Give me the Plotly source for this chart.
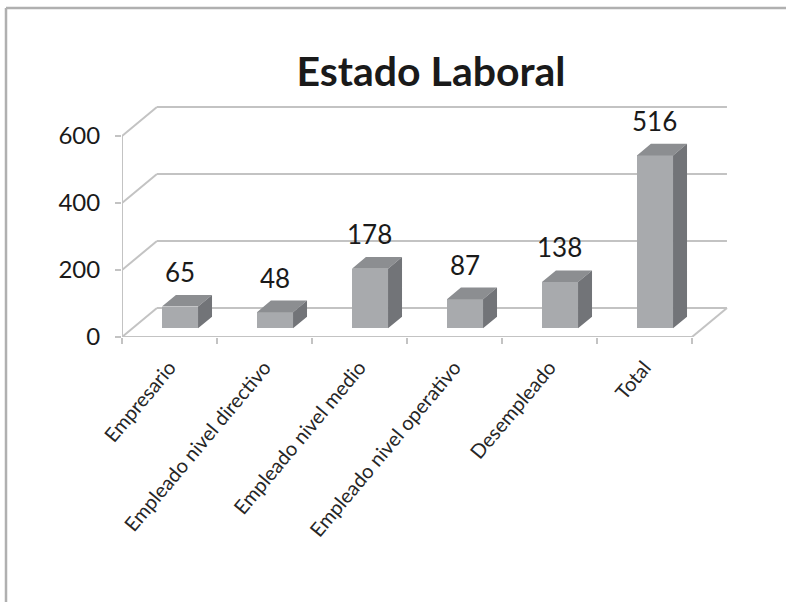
import plotly.graph_objects as go

categories = ["Empresario", "Empleado nivel directivo", "Empleado nivel medio",
              "Empleado nivel operativo", "Desempleado", "Total"]
values = [65, 48, 178, 87, 138, 516]
y_ticks = [0, 200, 400, 600]
title_text = "Estado Laboral"

# pseudo-3D styling
DX = 0.368          # depth offset along x (category units)
DY = 86.6           # depth offset along y (value units)
F1, F2 = 0.30, 0.70  # bar front/back depth fractions
BW = 0.38           # bar width
C_FRONT, C_TOP, C_SIDE = "#a8aaad", "#8c8e91", "#727478"
GRID = "#c3c3c3"
FONT = "Lato"

W, H = 786, 602
ML, MR, MT, MB = 122, 46, 95, 265
n = len(categories)

fig = go.Figure()

b1, b2, d = F1 * DY, F2 * DY, (F2 - F1) * DX
centers = [i + 0.5 + F1 * DX for i in range(n)]

# front faces
fig.add_trace(go.Bar(x=centers, y=values, base=b1, width=BW,
                     marker=dict(color=C_FRONT, line=dict(width=0)),
                     showlegend=False, hoverinfo="skip"))

tx, ty, sx, sy = [], [], [], []
for c, v in zip(centers, values):
    xl, xr = c - BW / 2, c + BW / 2
    tx += [xl, xr, xr + d, xl + d, xl, None]
    ty += [v + b1, v + b1, v + b2, v + b2, v + b1, None]
    sx += [xr, xr, xr + d, xr + d, xr, None]
    sy += [b1, v + b1, v + b2, b2, b1, None]
fig.add_trace(go.Scatter(x=tx, y=ty, fill="toself", fillcolor=C_TOP, mode="lines",
                         line=dict(width=0, color=C_TOP), hoverinfo="skip", showlegend=False))
fig.add_trace(go.Scatter(x=sx, y=sy, fill="toself", fillcolor=C_SIDE, mode="lines",
                         line=dict(width=0, color=C_SIDE), hoverinfo="skip", showlegend=False))

# invisible trace for the boundary-tick axis
fig.add_trace(go.Scatter(x=[0, n], y=[0, 0], xaxis="x2", mode="lines",
                         line=dict(width=0), hoverinfo="skip", showlegend=False))

annotations = []
for c, v in zip(centers, values):
    annotations.append(dict(x=c, y=v + b2, text=str(v), showarrow=False,
                            xanchor="center", yanchor="bottom", yshift=5,
                            font=dict(family=FONT, size=26, color="#1a1a1a")))

pw, ph = W - ML - MR, H - MT - MB
xmax = (W - MR - ML) / 95.0
ymax = ph / 0.335

def px_x(p):
    return (p - ML) / pw

def px_y(p):
    return (H - MB - p) / ph

# walls / gridlines (below the bars)
gl = dict(color=GRID, width=2)
segs = []
for v in y_ticks:
    segs.append((0, v, DX, v + DY))
    segs.append((DX, v + DY, n + DX, v + DY))
segs.append((0, 0, n, 0))
segs.append((n, 0, n + DX, DY))
segs.append((0, 0, 0, y_ticks[-1]))
shapes = [dict(type="line", xref="x", yref="y", x0=a, y0=b, x1=c, y1=e,
               line=gl, layer="below") for a, b, c, e in segs]

shapes += [
    dict(type="line", xref="paper", yref="paper", x0=px_x(6), x1=px_x(W + 5),
         y0=px_y(8), y1=px_y(8), line=dict(color="#b0b0b0", width=2.5)),
    dict(type="line", xref="paper", yref="paper", x0=px_x(6), x1=px_x(6),
         y0=px_y(8), y1=px_y(H + 5), line=dict(color="#b0b0b0", width=2.5)),
]

fig.update_layout(
    width=W, height=H,
    margin=dict(l=ML, r=MR, t=MT, b=MB),
    paper_bgcolor="white", plot_bgcolor="white",
    title=dict(text="<b>" + title_text + "</b>", x=0.5, xref="paper",
               xanchor="center", y=1 - 72 / H, yanchor="middle",
               font=dict(family=FONT, size=41, color="#1a1a1a")),
    xaxis=dict(range=[0, xmax], tickvals=[i + 0.5 for i in range(n)],
               ticktext=categories, tickangle=-50, ticks="", showgrid=False,
               zeroline=False, showline=False, ticklabelstandoff=14,
               tickfont=dict(family=FONT, size=20, color="#262626")),
    xaxis2=dict(range=[0, xmax], overlaying="x", anchor="y", side="bottom",
                tickvals=list(range(n + 1)), ticks="outside", ticklen=6,
                tickwidth=2, tickcolor=GRID, showticklabels=False,
                showgrid=False, zeroline=False, showline=False),
    yaxis=dict(range=[0, ymax], tickvals=y_ticks, ticks="outside", ticklen=6,
               tickwidth=2, tickcolor=GRID, showgrid=False, zeroline=False,
               showline=False, ticklabelstandoff=10,
               tickfont=dict(family=FONT, size=24, color="#1a1a1a")),
    annotations=annotations,
    shapes=shapes,
    bargap=0,
)

fig.write_html("out.html", config={"displayModeBar": False},
               post_script="document.body.style.margin='0';document.body.style.overflow='hidden';")
